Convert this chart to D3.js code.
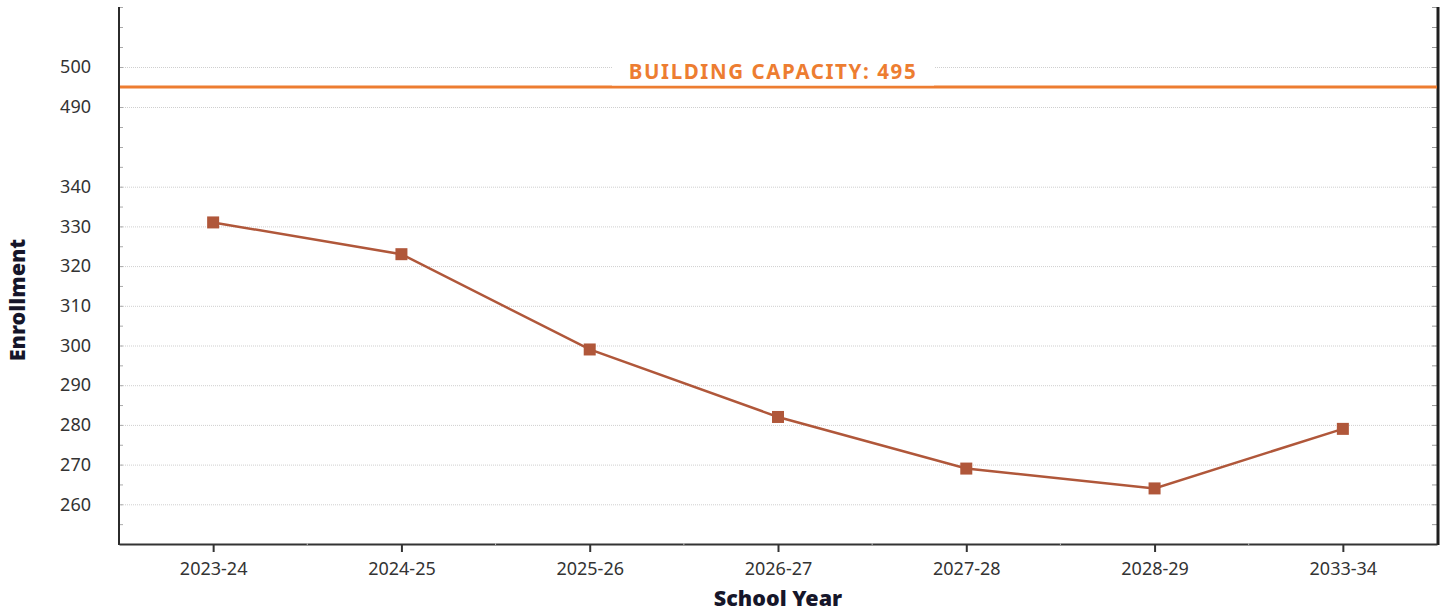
<!DOCTYPE html>
<meta charset="utf-8">
<style>
  body { margin: 0; background: #fff; }
  text { font-family: "Noto Sans", "Open Sans", sans-serif; }
</style>
<svg width="1442" height="611"></svg>
<script src="https://cdn.jsdelivr.net/npm/d3@7"></script>
<script>

var years = ["2023-24", "2024-25", "2025-26", "2026-27", "2027-28", "2028-29", "2033-34"];
var enrollment = [331, 323, 299, 282, 269, 264, 279];
var capacity = 495;
var yLabels = [260, 270, 280, 290, 300, 310, 320, 330, 340, 490, 500];
var yMinor = d3.range(250, 351, 5).concat(d3.range(480, 516, 5));

var svg = d3.select("svg");
var plotLeft = 119, plotRight = 1437, plotTop = 7, plotBottom = 544;

// broken axis: 350..480 squeezed to nothing
var x = d3.scalePoint().domain(years).range([plotLeft, plotRight]).padding(0.5);
var y = d3.scaleLinear().domain([250, 350, 480, 515]).range([plotBottom, 147, 147, plotTop]);

// gridlines
svg.append("g")
  .selectAll("line").data(yLabels).join("line")
    .attr("x1", plotLeft).attr("x2", plotRight)
    .attr("y1", d => y(d) + 0.5).attr("y2", d => y(d) + 0.5)
    .attr("stroke", "#cfcfcf").attr("stroke-dasharray", "1,1");

// left axis labels
var yAxis = svg.append("g")
  .attr("transform", "translate(" + plotLeft + ",0)")
  .call(d3.axisLeft(y).tickValues(yLabels).tickSize(0).tickPadding(28));
yAxis.select(".domain").remove();
yAxis.selectAll("text").attr("font-size", 18).attr("fill", "#333")
  .attr("font-family", "'Noto Sans', sans-serif");

// minor ticks on both sides
svg.append("g").selectAll("line").data(yMinor).join("line")
  .attr("x1", plotLeft).attr("x2", plotLeft + 4)
  .attr("y1", d => y(d) + 0.5).attr("y2", d => y(d) + 0.5)
  .attr("stroke", "#aaa");
svg.append("g").selectAll("line").data(yMinor).join("line")
  .attr("x1", plotRight - 5).attr("x2", plotRight)
  .attr("y1", d => y(d) + 0.5).attr("y2", d => y(d) + 0.5)
  .attr("stroke", "#999");

// frame lines
svg.append("line").attr("x1", plotLeft).attr("x2", plotLeft).attr("y1", plotTop).attr("y2", plotBottom + 1)
  .attr("stroke", "#2b2b2b").attr("stroke-width", 2);
svg.append("line").attr("x1", plotRight + 1).attr("x2", plotRight + 1).attr("y1", plotTop).attr("y2", plotBottom + 1)
  .attr("stroke", "#1e1e1e").attr("stroke-width", 3);

// x axis
var xAxis = svg.append("g")
  .attr("transform", "translate(0," + plotBottom + ")")
  .call(d3.axisBottom(x).tickSize(8).tickSizeOuter(0).tickPadding(10));
xAxis.select(".domain").attr("stroke", "#333").attr("stroke-width", 2);
xAxis.selectAll(".tick line").attr("stroke", "#333").attr("stroke-width", 2);
xAxis.selectAll("text").attr("font-size", 18).attr("fill", "#333")
  .attr("font-family", "'Noto Sans', sans-serif");
xAxis.selectAll(".sep").data(years.slice(1)).join("line")
  .attr("class", "sep")
  .attr("x1", d => x(d) - x.step() / 2).attr("x2", d => x(d) - x.step() / 2)
  .attr("y1", -1).attr("y2", 1)
  .attr("stroke", "#bbb").attr("stroke-width", 1);

// capacity line + label
svg.append("line")
  .attr("x1", plotLeft + 1).attr("x2", plotRight)
  .attr("y1", y(capacity)).attr("y2", y(capacity))
  .attr("stroke", "#ED7D31").attr("stroke-width", 3);
svg.append("rect")
  .attr("x", 612).attr("y", 57).attr("width", 322).attr("height", y(capacity) - 58.5)
  .attr("fill", "#fff");
svg.append("text")
  .attr("x", 773).attr("y", 79)
  .attr("text-anchor", "middle")
  .attr("font-size", 20.5).attr("font-weight", 700)
  .attr("letter-spacing", 1.6)
  .attr("fill", "#ED7D31")
  .text("BUILDING CAPACITY: " + capacity);

// series
var pts = years.map((d, i) => [x(d), y(enrollment[i])]);
svg.append("path")
  .attr("d", d3.line()(pts))
  .attr("fill", "none").attr("stroke", "#B0573A").attr("stroke-width", 2.5);
svg.append("g").selectAll("rect").data(pts).join("rect")
  .attr("x", d => d[0] - 6).attr("y", d => d[1] - 6)
  .attr("width", 12).attr("height", 12)
  .attr("fill", "#B0573A");

// axis titles
svg.append("text")
  .attr("x", (plotLeft + plotRight) / 2).attr("y", 606)
  .attr("text-anchor", "middle")
  .attr("font-size", 21.5).attr("font-weight", 900).attr("fill", "#16162a")
  .text("School Year");
svg.append("text")
  .attr("transform", "translate(25,300) rotate(-90)")
  .attr("text-anchor", "middle")
  .attr("font-size", 21.5).attr("font-weight", 900).attr("fill", "#16162a")
  .text("Enrollment");

</script>
